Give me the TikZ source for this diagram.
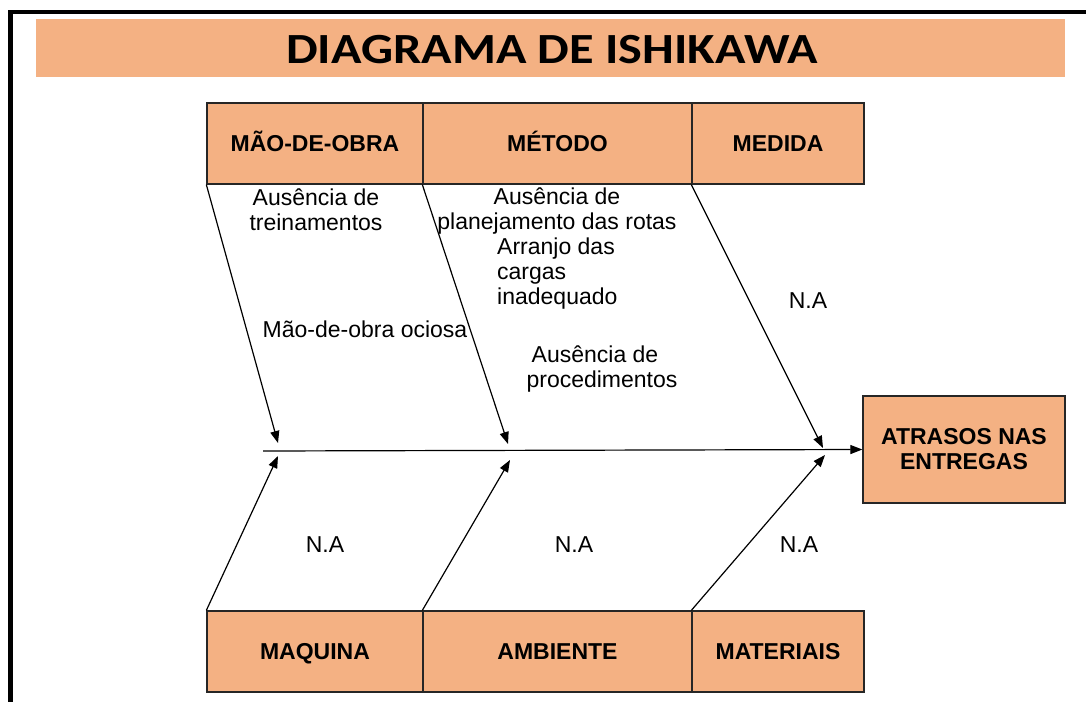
\documentclass[tikz,border=0pt]{standalone}
\usepackage{fontspec}
\setmainfont{Liberation Sans}
\newfontfamily\titlefont{Carlito}
\usetikzlibrary{arrows.meta}
\definecolor{peach}{RGB}{244,177,131}

\tikzset{
  causebox/.style={shape=rectangle,draw=black!85,fill=peach,line width=1.3pt,
    minimum height=81pt,inner sep=0pt,text height=16.5pt,text depth=0pt,
    font=\fontsize{23}{25}\selectfont\bfseries},
  cause/.style={inner sep=0pt,font=\fontsize{23}{25}\selectfont,align=center},
  bone/.style={-{Triangle[length=12pt,width=9pt]},line width=1.2pt}
}

\begin{document}
\begin{tikzpicture}[x=1pt,y=-1pt]
        \useasboundingbox (0,0) rectangle (1086,701);
        \draw[line width=4.5pt] (10.5,720) -- (10.5,12) -- (1100,12);
        \fill[peach] (36,19) rectangle (1065,77);
        \node[font=\fontsize{43}{43}\titlefont\bfseries](title) at (552,50) {\scalebox{1.17}[1]{DIAGRAMA DE ISHIKAWA}};
        % causas
        \node[causebox,minimum width=216pt](mob) at (315,143.5) {MÃO-DE-OBRA};
        \node[causebox,minimum width=269pt](met) at (557.5,143.5) {MÉTODO};
        \node[causebox,minimum width=172pt](med) at (778,143.5) {MEDIDA};
        \node[causebox,minimum width=216pt](maq) at (315,651.5) {MAQUINA};
        \node[causebox,minimum width=269pt](amb) at (557.5,651.5) {AMBIENTE};
        \node[causebox,minimum width=172pt](mat) at (778,651.5) {MATERIAIS};
        \node[causebox,minimum width=202pt,minimum height=107pt,text height=,text depth=,align=center](efeito) at (964,449.5) {ATRASOS NAS\\ENTREGAS};
        % espinha
        \coordinate (s0) at (263,451);
        \coordinate (t1) at (278,443);
        \coordinate (t2) at (508,444);
        \coordinate (t3) at (823,448);
        \coordinate (b1) at (278,456);
        \coordinate (b2) at (510,460);
        \coordinate (b3) at (825,455);
        \draw[bone] (s0) -- (efeito.west);
        \path [bone] (mob.south west) edge (t1);
        \path [bone] (met.south west) edge (t2);
        \path [bone] (med.south west) edge (t3);
        \path [bone] (maq.north west) edge (b1);
        \path [bone] (amb.north west) edge (b2);
        \path [bone] (mat.north west) edge (b3);
        % textos
        \node[cause](c1) at (316,209.5) {Ausência de\\treinamentos};
        \node[cause](c2) at (365,329) {Mão-de-obra ociosa};
        \node[cause](c3) at (557,211) {Ausência de\\planejamento das rotas};
        \node[cause,align=left,anchor=west](c4) at (497,274) {Arranjo das\\cargas\\inadequado};
        \node[cause](c5) at (602,369.5) {Ausência de\hspace*{14pt}\\procedimentos};
        \node[cause](c6) at (808,301) {N.A};
        \node[cause](c7) at (325,545) {N.A};
        \node[cause](c8) at (574,545) {N.A};
        \node[cause](c9) at (799,545) {N.A};
\end{tikzpicture}
\end{document}
